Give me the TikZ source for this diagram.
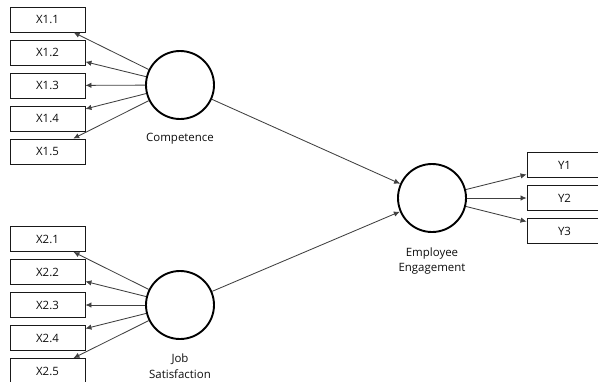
\documentclass[tikz,border=0pt]{standalone}
\usepackage{fontspec}
\setmainfont{Open Sans}
\usetikzlibrary{arrows.meta}
\tikzset{
  ind/.style={draw=black!90,line width=0.9bp,minimum width=75bp,minimum height=25bp,inner sep=0pt,font=\fontsize{11.5}{13}\selectfont,text=black!95},
  lv/.style={circle,draw=black,line width=1.9bp,minimum size=68bp,inner sep=0pt},
  lab/.style={inner sep=0pt,align=center,font=\fontsize{11.5}{15.8}\selectfont,text=black!95},
  ld/.style={draw=black!75,line width=0.85bp,-{Latex[length=6bp,width=5.5bp]}}
}

\begin{document}
\begin{tikzpicture}[x=1bp,y=-1bp]
    \clip (0,0) rectangle (598,381);
    % latent variables
    \node[lv] (comp) at (180,85) {};
    \node[lv] (job) at (180,305) {};
    \node[lv] (eng) at (432,198) {};
    \node[lab] (compl) at (180,139) {Competence};
    \node[lab] (jobl) at (180,366.5) {Job\\Satisfaction};
    \node[lab] (engl) at (432,261) {Employee\\Engagement};
    % indicators
    \node[ind] (x11) at (47.5,19.5) {X1.1};
    \node[ind] (x12) at (47.5,52.5) {X1.2};
    \node[ind] (x13) at (47.5,85.5) {X1.3};
    \node[ind] (x14) at (47.5,118.5) {X1.4};
    \node[ind] (x15) at (47.5,151.5) {X1.5};
    \node[ind] (x21) at (47.5,239) {X2.1};
    \node[ind] (x22) at (47.5,272) {X2.2};
    \node[ind] (x23) at (47.5,305) {X2.3};
    \node[ind] (x24) at (47.5,338) {X2.4};
    \node[ind] (x25) at (47.5,371) {X2.5};
    \node[ind] (y1) at (564.5,165) {Y1};
    \node[ind] (y2) at (564.5,198) {Y2};
    \node[ind] (y3) at (564.5,231) {Y3};
    % loadings
    \draw[ld] (comp) -- (x11);
    \draw[ld] (comp) -- (x12);
    \draw[ld] (comp) -- (x13);
    \draw[ld] (comp) -- (x14);
    \draw[ld] (comp) -- (x15);
    \draw[ld] (job) -- (x21);
    \draw[ld] (job) -- (x22);
    \draw[ld] (job) -- (x23);
    \draw[ld] (job) -- (x24);
    \draw[ld] (job) -- (x25);
    \draw[ld] (eng) -- (y1);
    \draw[ld] (eng) -- (y2);
    \draw[ld] (eng) -- (y3);
    % paths
    \draw[ld] (comp) -- (eng);
    \draw[ld] (job) -- (eng);
\end{tikzpicture}
\end{document}
